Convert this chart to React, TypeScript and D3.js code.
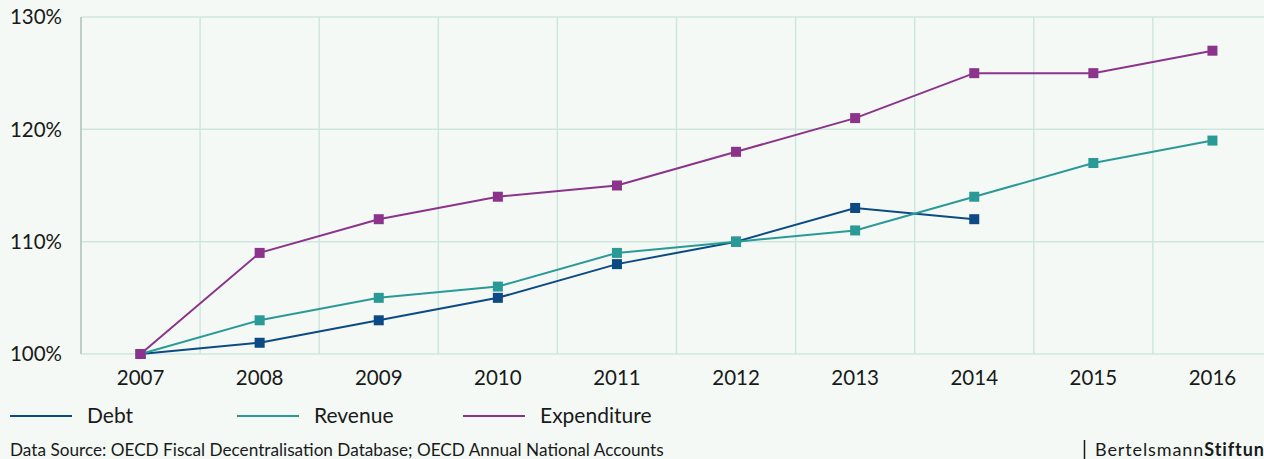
import React from "react";
import * as d3 from "d3";

const years = ["2007", "2008", "2009", "2010", "2011", "2012", "2013", "2014", "2015", "2016"];
const debt = [100, 101, 103, 105, 108, 110, 113, 112];
const revenue = [100, 103, 105, 106, 109, 110, 111, 114, 117, 119];
const expenditure = [100, 109, 112, 114, 115, 118, 121, 125, 125, 127];
const yTicks = [100, 110, 120, 130];
const seriesNames = ["Debt", "Revenue", "Expenditure"];
const seriesColors = ["#0b4a85", "#2a9a97", "#8c338c"];
const sourceText = "Data Source: OECD Fiscal Decentralisation Database; OECD Annual National Accounts";

const W = 1264;
const H = 459;
const FONT = "Lato, 'Open Sans', sans-serif";

export default function App() {
  const x = d3.scaleBand<string>().domain(years).range([81, 1272]);
  const y = d3.scaleLinear().domain([100, 130]).range([354, 17]);
  const cx = (yr: string) => (x(yr) as number) + x.bandwidth() / 2;
  const series = [debt, revenue, expenditure];
  const line = d3
    .line<number>()
    .x((_, i) => cx(years[i]))
    .y((d) => y(d));
  const legendX = [10, 237, 463];

  return (
    <svg
      width={W}
      height={H}
      style={{ position: "absolute", left: 0, top: 0, background: "#f4f9f6" }}
      fontFamily={FONT}
    >
      <rect x={0} y={0} width={W} height={H} fill="#f4f9f6" />
      {years.map((yr) => (
        <line
          key={"v" + yr}
          x1={x(yr) as number}
          x2={x(yr) as number}
          y1={y(130)}
          y2={y(100)}
          stroke="#cfe6df"
          strokeWidth={1.5}
        />
      ))}
      {yTicks.map((t) => (
        <line
          key={"h" + t}
          x1={81}
          x2={1272}
          y1={y(t)}
          y2={y(t)}
          stroke="#cfe6df"
          strokeWidth={1.5}
        />
      ))}
      <line x1={81} x2={81} y1={y(130)} y2={y(100)} stroke="#b7c3c1" strokeWidth={1.5} />
      {yTicks.map((t) => (
        <text
          key={"yt" + t}
          x={62}
          y={y(t)}
          dy="0.36em"
          textAnchor="end"
          fontSize={20.5}
          fill="#1a1a1a"
        >
          {t + "%"}
        </text>
      ))}
      {years.map((yr) => (
        <text
          key={"xt" + yr}
          x={cx(yr)}
          y={385}
          textAnchor="middle"
          fontSize={20.5}
          fill="#1a1a1a"
        >
          {yr}
        </text>
      ))}
      {series.map((s, si) => (
        <g key={"s" + si}>
          <path d={line(s) as string} fill="none" stroke={seriesColors[si]} strokeWidth={2} />
          {s.map((v, i) => (
            <rect
              key={i}
              x={cx(years[i]) - 5}
              y={y(v) - 5}
              width={10}
              height={10}
              fill={seriesColors[si]}
            />
          ))}
        </g>
      ))}
      {seriesNames.map((n, i) => (
        <g key={"l" + n}>
          <line
            x1={legendX[i]}
            x2={legendX[i] + 62}
            y1={416}
            y2={416}
            stroke={seriesColors[i]}
            strokeWidth={2}
          />
          <text x={legendX[i] + 77} y={416} dy="0.35em" fontSize={21} fill="#1a1a1a">
            {n}
          </text>
        </g>
      ))}
      <text x={10} y={456} fontSize={17.2} fill="#1a1a1a">
        {sourceText}
      </text>
      <line x1={1084.5} x2={1084.5} y1={440} y2={459} stroke="#1a1a1a" strokeWidth={1.5} />
      <text x={1095} y={456} fontSize={18} letterSpacing={0.9} fill="#1a1a1a">
        <tspan>Bertelsmann</tspan>
        <tspan fontWeight="bold">Stiftung</tspan>
      </text>
    </svg>
  );
}
